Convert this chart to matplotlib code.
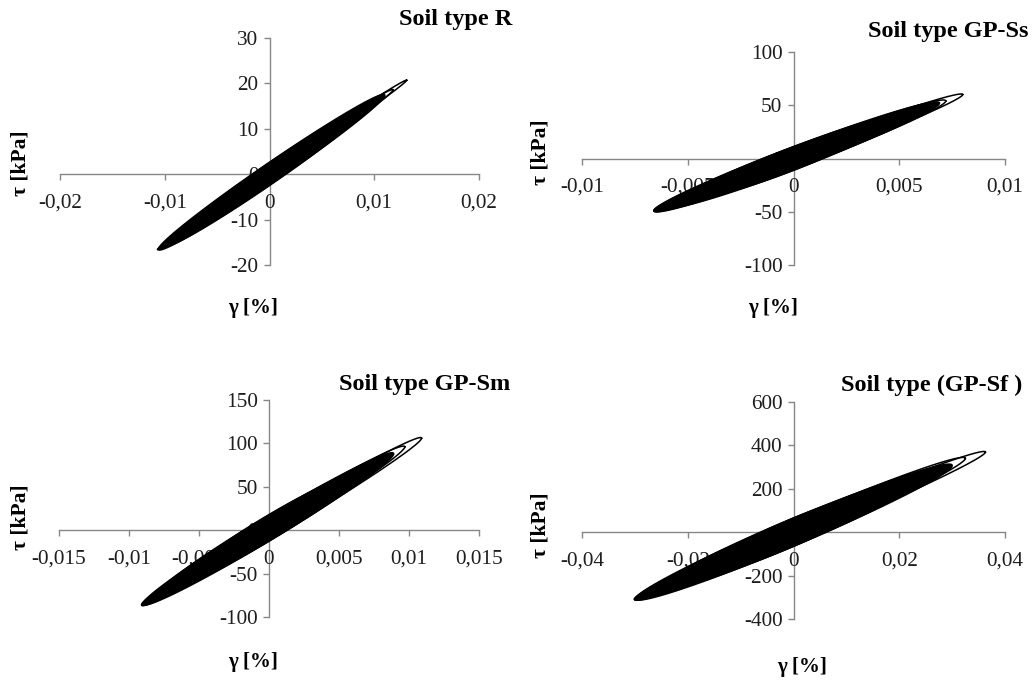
import matplotlib
matplotlib.use("Agg")
import matplotlib.pyplot as plt
import numpy as np

plt.rcParams['font.family'] = ['Liberation Serif', 'DejaVu Serif']

# hysteresis loops:
# (gamma_max, tau_max, gamma_min, tau_min, half thickness at centre)
loops_R_open = [(0.0131, 20.7, -0.0107, -16.6, 1.1),
                (0.0118, 18.6, -0.0106, -16.5, 1.6)]
loops_R_full = [(0.0110, 17.4, -0.0106, -16.5, 2.5),
                (0.0095, 15.0, -0.0099, -15.6, 2.5),
                (0.0070, 11.2, -0.0075, -11.8, 2.4)]

loops_Ss_open = [(0.0080, 60, -0.0066, -49, 8),
                 (0.0072, 54, -0.0066, -49, 10)]
loops_Ss_full = [(0.0069, 52, -0.0066, -49, 10.5),
                 (0.0057, 43, -0.0060, -45, 11),
                 (0.0040, 30, -0.0045, -34, 11)]

loops_Sm_open = [(0.0109, 106, -0.0091, -86, 12),
                 (0.0097, 96, -0.0091, -86, 13)]
loops_Sm_full = [(0.0089, 88, -0.0090, -85, 14.5),
                 (0.0076, 75, -0.0080, -74, 15),
                 (0.0055, 56, -0.0060, -55, 15)]

loops_Sf_open = [(0.0363, 369, -0.0301, -309, 46),
                 (0.0325, 340, -0.0301, -309, 56)]
loops_Sf_full = [(0.0300, 307, -0.0298, -306, 63),
                 (0.0255, 260, -0.0265, -270, 65),
                 (0.0180, 185, -0.0200, -205, 65)]

titles = ["Soil type R", "Soil type GP-Ss", "Soil type GP-Sm", "Soil type (GP-Sf )"]

xticks_R = [-0.02, -0.01, 0, 0.01, 0.02]
xlabels_R = ['-0,02', '-0,01', '0', '0,01', '0,02']
yticks_R = [-20, -10, 0, 10, 20, 30]

xticks_Ss = [-0.01, -0.005, 0, 0.005, 0.01]
xlabels_Ss = ['-0,01', '-0,005', '0', '0,005', '0,01']
yticks_Ss = [-100, -50, 0, 50, 100]

xticks_Sm = [-0.015, -0.01, -0.005, 0, 0.005, 0.01, 0.015]
xlabels_Sm = ['-0,015', '-0,01', '-0,005', '0', '0,005', '0,01', '0,015']
yticks_Sm = [-100, -50, 0, 50, 100, 150]

xticks_Sf = [-0.04, -0.02, 0, 0.02, 0.04]
xlabels_Sf = ['-0,04', '-0,02', '0', '0,02', '0,04']
yticks_Sf = [-400, -200, 0, 200, 400, 600]


def loop_xy(gmax, tmax, gmin, tmin, w, n=300):
    t = np.linspace(0, 2 * np.pi, n)
    gc, tc = (gmax + gmin) / 2, (tmax + tmin) / 2
    ga, ta = (gmax - gmin) / 2, (tmax - tmin) / 2
    return gc + ga * np.cos(t), tc + ta * np.cos(t) + w * np.sin(t)


def draw_panel(ax, open_loops, full_loops, xticks, xlabels, yticks):
    for lp in full_loops:
        x, y = loop_xy(*lp)
        ax.fill(x, y, color='black', lw=1.2, zorder=3)
    for lp in open_loops:
        x, y = loop_xy(*lp)
        ax.plot(x, y, color='black', lw=1.1, zorder=3)
    ax.set_xlim(xticks[0], xticks[-1])
    ax.set_ylim(yticks[0], yticks[-1])
    ax.set_xticks(xticks)
    ax.set_xticklabels(xlabels)
    ax.set_yticks(yticks)
    ax.set_yticklabels([str(v) for v in yticks])
    ax.spines['left'].set_position(('data', 0))
    ax.spines['bottom'].set_position(('data', 0))
    ax.spines['right'].set_visible(False)
    ax.spines['top'].set_visible(False)
    for s in ['left', 'bottom']:
        ax.spines[s].set_color('#878787')
        ax.spines[s].set_zorder(1)
        ax.spines[s].set_linewidth(1.0)
    ax.tick_params(axis='both', colors='#878787', labelcolor='#1e1e1e',
                   labelsize=15.3, length=4, width=1.0)
    ax.tick_params(axis='x', pad=10)
    ax.tick_params(axis='y', pad=4)
    ax.patch.set_visible(False)


fig = plt.figure(figsize=(10.34, 6.81), dpi=100)
W, H = 1034.0, 681.0

boxes = [(60, 38, 479, 265), (582, 52, 1005, 265),
         (59, 400, 479, 617), (582, 402, 1005, 619)]
panels = [(loops_R_open, loops_R_full, xticks_R, xlabels_R, yticks_R),
          (loops_Ss_open, loops_Ss_full, xticks_Ss, xlabels_Ss, yticks_Ss),
          (loops_Sm_open, loops_Sm_full, xticks_Sm, xlabels_Sm, yticks_Sm),
          (loops_Sf_open, loops_Sf_full, xticks_Sf, xlabels_Sf, yticks_Sf)]

for (x0, y0, x1, y1), p in zip(boxes, panels):
    ax = fig.add_axes([x0 / W, 1 - y1 / H, (x1 - x0) / W, (y1 - y0) / H])
    draw_panel(ax, *p)

# titles, axis labels (pixel positions from the picture)
title_pos = [(512, 20), (1028, 32), (510, 385), (1022, 385)]
for (x, y), t in zip(title_pos, titles):
    fig.text(x / W, 1 - y / H, t, ha='right', va='center',
             fontsize=17.5, fontweight='bold')

xlab_pos = [(253, 308), (773, 308), (253, 662), (802, 667)]
for x, y in xlab_pos:
    fig.text(x / W, 1 - y / H, 'γ [%]', ha='center', va='center',
             fontsize=15, fontweight='bold')

ylab_pos = [(20, 163), (540, 152), (20, 517), (540, 525)]
for x, y in ylab_pos:
    fig.text(x / W, 1 - y / H, 'τ [kPa]', ha='center', va='center',
             rotation=90, fontsize=15.5, fontweight='bold')

fig.savefig('out.png', dpi=100)
